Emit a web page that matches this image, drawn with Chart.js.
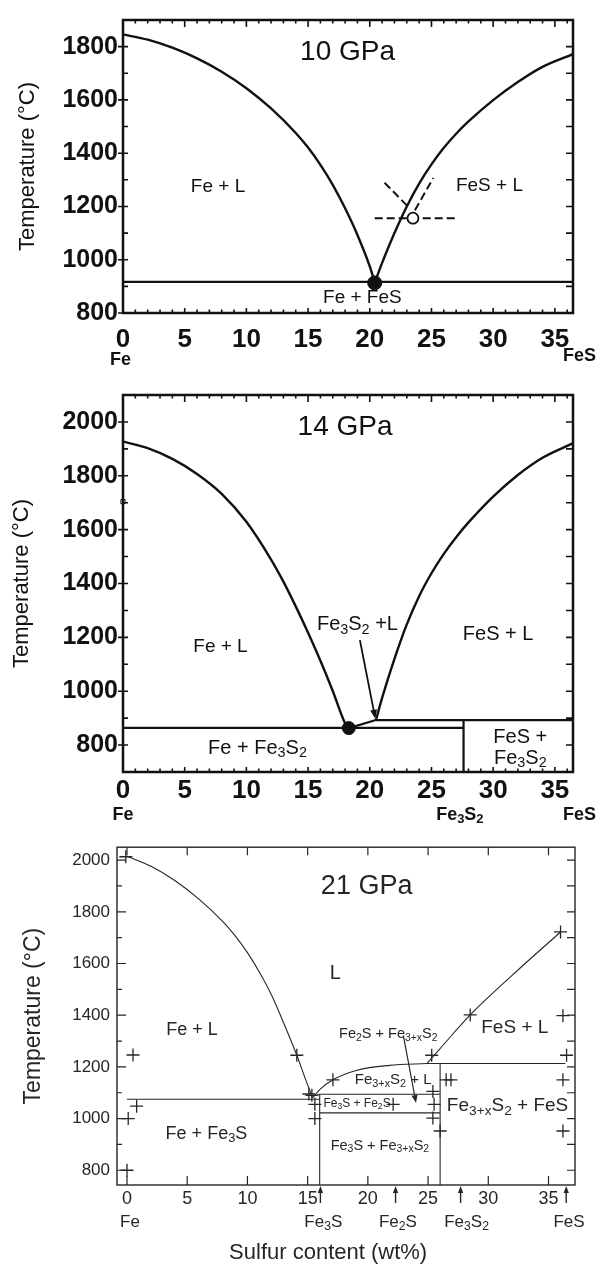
<!DOCTYPE html>
<html>
<head>
<meta charset="utf-8">
<title>Fe–FeS phase diagrams at 10, 14 and 21 GPa</title>
<script src="https://cdn.jsdelivr.net/npm/chart.js@4.4.1/dist/chart.umd.min.js"></script>
<style>
  html, body { margin: 0; padding: 0; background: #fff; }
  body { position: relative; width: 598px; height: 1280px; overflow: hidden; }
  canvas { position: absolute; left: 0; }
  #c10 { top: 0; }
  #c14 { top: 375px; }
  #c21 { top: 830px; }
</style>
</head>
<body>
<canvas id="c10" width="598" height="375"></canvas>
<canvas id="c14" width="598" height="455"></canvas>
<canvas id="c21" width="598" height="450"></canvas>
<script>
// ---------- axis ticks ----------
const compositionTicks = [0, 5, 10, 15, 20, 25, 30, 35];
const tempTicks10 = [800, 1000, 1200, 1400, 1600, 1800];
const tempTicks14 = [800, 1000, 1200, 1400, 1600, 1800, 2000];
const tempTicks21 = [800, 1000, 1200, 1400, 1600, 1800, 2000];

// ---------- 10 GPa: [S wt%, T °C] ----------
const liquidusFe10 = [[0, 1846], [2, 1826], [4, 1796], [6, 1756], [8, 1706], [10, 1644], [12, 1568],
  [14, 1476], [15, 1421], [16, 1356], [17, 1281], [18, 1193], [19, 1093], [20, 975], [20.4, 915]];
const liquidusFeS10 = [[20.4, 913], [21, 988], [22, 1100], [23, 1200], [24, 1286], [25, 1358], [26, 1420],
  [27, 1473], [28, 1519], [30, 1599], [32, 1667], [34, 1724], [36.47, 1772]];
const solidus10 = [[0, 917], [36.47, 917]];
const eutectic10 = [[20.4, 913]];
const melting10 = [[23.5, 1156]];
const rangeH10 = [[20.4, 1156], [27.1, 1156]];
const rangeA10 = [[21.2, 1289], [23.0, 1204]];
const rangeB10 = [[23.66, 1186], [25.15, 1307]];

// ---------- 14 GPa ----------
const liquidusFe14 = [[0, 1927], [2, 1903], [4, 1863], [6, 1807], [8, 1733], [10, 1629], [12, 1489],
  [13, 1407], [14, 1315], [15, 1217], [16, 1113], [17, 1001], [18, 881], [18.3, 862]];
const liquidusFeS14 = [[20.5, 893], [21, 975], [22, 1120], [23, 1248], [24, 1353], [25, 1438], [26, 1510],
  [27, 1572], [28, 1627], [30, 1723], [32, 1803], [34, 1867], [36.47, 1921]];
const solidus14 = [[0, 864], [27.6, 864]];
const peritecticTie14 = [[18.3, 863], [20.5, 893]];
const peritectic14 = [[20.5, 893], [36.47, 893]];
const fe3s2Line14 = [[27.6, 893], [27.6, 700]];
const eutectic14 = [[18.3, 863]];
const edgeMark14 = [[0, 1704]];

// ---------- 21 GPa ----------
const liquidusFe21 = [[0, 2015], [2, 1976], [4, 1920], [6, 1848], [8, 1760], [9, 1706], [10, 1642],
  [11, 1566], [12, 1478], [13, 1371], [14.1, 1245], [14.7, 1168], [15.4, 1080]];
const liquidusFe3xS2_21 = [[15.4, 1080], [16.0, 1112], [17.1, 1150], [19.1, 1187], [21.8, 1206], [24.9, 1213]];
const liquidusFeS21 = [[24.9, 1213], [26.0, 1271], [28.5, 1401], [32.0, 1555], [36.0, 1722]];
const eutectic21 = [[0, 1075], [16.0, 1075]];
const peritectic21 = [[24.9, 1213], [36.4, 1213]];
const boxTop21 = [[15.8, 1094], [26.0, 1094]];
const boxBottom21 = [[16.0, 1022], [26.0, 1022]];
const fe3sLine21 = [[16.0, 1094], [16.0, 743]];
const fe3s2Line21 = [[26.0, 1213], [26.0, 743]];
const runs21 = [[-0.1, 2013], [0.5, 1246], [0.8, 1048], [0.1, 1000], [0.0, 800], [14.1, 1245],
  [15.1, 1095], [15.35, 1090], [15.6, 1055], [15.6, 1000], [17.1, 1150], [22.1, 1055],
  [25.3, 1245], [25.4, 1105], [25.5, 1055], [25.4, 1002], [26.0, 952], [26.5, 1150], [26.9, 1150],
  [28.5, 1401], [36.0, 1722], [36.2, 1398], [36.5, 1245], [36.2, 1150], [36.2, 952]];

// ---------- drawing helpers ----------
const FONT = "'Liberation Sans', Arial, Helvetica, sans-serif";

function richSegments(s) {
  const out = []; let buf = ''; let i = 0;
  while (i < s.length) {
    if (s[i] === '_') {
      if (buf) { out.push({ t: buf, sub: false }); buf = ''; }
      if (s[i + 1] === '{') { const j = s.indexOf('}', i); out.push({ t: s.slice(i + 2, j), sub: true }); i = j + 1; }
      else { out.push({ t: s[i + 1], sub: true }); i += 2; }
    } else { buf += s[i]; i++; }
  }
  if (buf) out.push({ t: buf, sub: false });
  return out;
}

function drawRich(ctx, s, px, py, size, weight, color, align) {
  const segs = richSegments(s);
  const sub = size * 0.72;
  let w = 0;
  for (const g of segs) {
    ctx.font = `${weight} ${g.sub ? sub : size}px ${FONT}`;
    g.w = ctx.measureText(g.t).width; w += g.w;
  }
  let cx = align === 'left' ? px : align === 'right' ? px - w : px - w / 2;
  ctx.fillStyle = color; ctx.textAlign = 'left'; ctx.textBaseline = 'middle';
  for (const g of segs) {
    ctx.font = `${weight} ${g.sub ? sub : size}px ${FONT}`;
    ctx.fillText(g.t, cx, py + (g.sub ? size * 0.26 : 0));
    cx += g.w;
  }
}

function arrow(ctx, x0, y0, x1, y1, head, width, color) {
  const ang = Math.atan2(y1 - y0, x1 - x0);
  const bx = x1 - head * Math.cos(ang), by = y1 - head * Math.sin(ang);
  const hw = head * 0.38;
  ctx.strokeStyle = color; ctx.fillStyle = color; ctx.lineWidth = width;
  ctx.beginPath(); ctx.moveTo(x0, y0); ctx.lineTo(bx, by); ctx.stroke();
  ctx.beginPath(); ctx.moveTo(x1, y1);
  ctx.lineTo(bx + hw * Math.sin(ang), by - hw * Math.cos(ang));
  ctx.lineTo(bx - hw * Math.sin(ang), by + hw * Math.cos(ang));
  ctx.closePath(); ctx.fill();
}

// frame, inward tick marks, field labels and arrows
const phaseDecor = {
  id: 'phaseDecor',
  afterDatasetsDraw(chart, _args, o) {
    const { ctx, chartArea: a, scales: { x, y } } = chart;
    const t = o.ticks;
    ctx.save();
    ctx.strokeStyle = o.ink; ctx.lineWidth = o.tickWidth; ctx.beginPath();
    const xRatio = Math.round(t.xMajor / t.xStep);
    for (let i = Math.ceil(x.min / t.xStep); i * t.xStep <= x.max + 1e-9; i++) {
      const px = x.getPixelForValue(i * t.xStep);
      const major = ((i % xRatio) + xRatio) % xRatio === 0;
      const lt = major ? t.topMajor : t.topMinor;
      const lb = major ? t.bottomMajor : t.bottomMinor;
      if (lt) { ctx.moveTo(px, a.top); ctx.lineTo(px, a.top + lt); }
      if (lb) { ctx.moveTo(px, a.bottom); ctx.lineTo(px, a.bottom - lb); }
    }
    const yRatio = Math.round(t.yMajor / t.yStep);
    for (let i = Math.ceil(y.min / t.yStep); i * t.yStep <= y.max + 1e-9; i++) {
      const py = y.getPixelForValue(i * t.yStep);
      const major = i % yRatio === 0;
      const ll = major ? t.leftMajor : t.leftMinor;
      const lo = major ? t.leftOut : 0;
      ctx.moveTo(a.left - lo, py); ctx.lineTo(a.left + ll, py);
      const rl = major ? t.rightMajor : t.rightMinor;
      ctx.moveTo(a.right, py); ctx.lineTo(a.right - rl, py);
    }
    ctx.stroke();

    ctx.lineWidth = o.frameWidth;
    ctx.strokeRect(a.left, a.top, a.right - a.left, a.bottom - a.top);

    for (const ar of (o.arrows || [])) {
      arrow(ctx, x.getPixelForValue(ar.from[0]), y.getPixelForValue(ar.from[1]),
        x.getPixelForValue(ar.to[0]), y.getPixelForValue(ar.to[1]), ar.head, ar.width, o.ink);
    }
    for (const ar of (o.axisArrows || [])) {
      const px = x.getPixelForValue(ar.x);
      arrow(ctx, px, a.bottom + ar.tail, px, a.bottom + 1, ar.head, ar.width, o.ink);
    }
    for (const l of (o.texts || [])) {
      drawRich(ctx, l.t, x.getPixelForValue(l.x), y.getPixelForValue(l.y), l.size, l.weight || 'normal', o.ink, l.align || 'center');
    }
    for (const l of (o.below || [])) {
      drawRich(ctx, l.t, x.getPixelForValue(l.x), a.bottom + l.dy, l.size, l.weight || 'normal', o.ink, l.align || 'center');
    }
    ctx.restore();
  }
};

function pts(arr) { return arr.map(([x, y]) => ({ x, y })); }
function boundary(arr, ink, width, extra) {
  return Object.assign({ data: pts(arr), showLine: true, pointRadius: 0, pointHoverRadius: 0,
    borderColor: ink, borderWidth: width, tension: 0, fill: false }, extra || {});
}
function curve(arr, ink, width) { return boundary(arr, ink, width, { cubicInterpolationMode: 'monotone' }); }
function marks(arr, style, radius, ink, width, fillColor) {
  return { data: pts(arr), showLine: false, pointStyle: style, pointRadius: radius, pointHoverRadius: radius,
    pointBorderColor: ink, pointBackgroundColor: fillColor, pointBorderWidth: width,
    borderColor: ink, backgroundColor: fillColor, clip: false };
}

function buildPanel(id, p) {
  return new Chart(document.getElementById(id), {
    type: 'scatter',
    data: { datasets: p.datasets },
    options: {
      responsive: false, animation: false, devicePixelRatio: 1,
      layout: { padding: p.padding },
      events: [],
      plugins: { legend: { display: false }, tooltip: { enabled: false }, phaseDecor: p.decor },
      scales: {
        x: {
          type: 'linear', min: p.xMin, max: p.xMax,
          grid: { display: false, drawTicks: false }, border: { display: false },
          ticks: { color: p.ink, font: p.xFont, padding: p.xPad, autoSkip: false, maxRotation: 0, callback: v => String(v) },
          afterBuildTicks: s => { s.ticks = compositionTicks.map(v => ({ value: v })); },
          afterFit: s => { s.height = p.xHeight; }
        },
        y: {
          type: 'linear', min: p.yMin, max: p.yMax,
          grid: { display: false, drawTicks: false }, border: { display: false },
          ticks: { color: p.ink, font: p.yFont, padding: p.yPad, autoSkip: false, callback: v => String(v) },
          afterBuildTicks: s => { s.ticks = p.yTicks.map(v => ({ value: v })); },
          afterFit: s => { s.width = p.yWidth; },
          title: { display: true, text: 'Temperature (°C)', color: p.ink,
            font: { family: FONT, size: p.titleSize }, padding: { top: p.titlePad, bottom: 0 } }
        }
      }
    },
    plugins: [phaseDecor]
  });
}

// ---------- 10 GPa ----------
const ink12 = '#111';
const bold = { family: FONT, weight: 'bold' };
buildPanel('c10', {
  ink: ink12, xMin: 0, xMax: 36.47, yMin: 800, yMax: 1900, yTicks: tempTicks10,
  padding: { top: 10, right: 25, left: 0, bottom: 0 }, yWidth: 123, xHeight: 62,
  xFont: Object.assign({ size: 26 }, bold), xPad: 11, yFont: Object.assign({ size: 25 }, bold), yPad: 5,
  titleSize: 22, titlePad: 15,
  datasets: [
    marks(eutectic10, 'circle', 7, ink12, 1, ink12),
    marks(melting10, 'circle', 5.5, ink12, 1.8, '#fff'),
    curve(liquidusFe10, ink12, 2.4),
    curve(liquidusFeS10, ink12, 2.4),
    boundary(solidus10, ink12, 2.2),
    boundary(rangeH10, ink12, 2, { borderDash: [8, 4] }),
    boundary(rangeA10, ink12, 2, { borderDash: [8, 4] }),
    boundary(rangeB10, ink12, 2, { borderDash: [8, 4] })
  ],
  decor: {
    ink: ink12, tickWidth: 1.6, frameWidth: 2.5,
    ticks: { xStep: 1, xMajor: 5, topMajor: 7, topMinor: 3.5, bottomMajor: 5, bottomMinor: 3.5,
      yStep: 100, yMajor: 200, leftMajor: 5, leftMinor: 5, leftOut: 5, rightMajor: 7, rightMinor: 7 },
    texts: [
      { t: '10 GPa', x: 18.2, y: 1778, size: 28 },
      { t: 'Fe + L', x: 7.7, y: 1275, size: 19 },
      { t: 'FeS + L', x: 29.7, y: 1279, size: 19 },
      { t: 'Fe + FeS', x: 19.4, y: 858, size: 19 }
    ],
    below: [
      { t: 'Fe', x: -0.2, dy: 47, size: 18, weight: 'bold' },
      { t: 'FeS', x: 37.0, dy: 43, size: 18, weight: 'bold' }
    ]
  }
});

// ---------- 14 GPa ----------
buildPanel('c14', {
  ink: ink12, xMin: 0, xMax: 36.47, yMin: 700, yMax: 2100, yTicks: tempTicks14,
  padding: { top: 20, right: 25, left: 0, bottom: 0 }, yWidth: 123, xHeight: 58,
  xFont: Object.assign({ size: 26 }, bold), xPad: 3, yFont: Object.assign({ size: 25 }, bold), yPad: 5,
  titleSize: 22, titlePad: 9,
  datasets: [
    marks(eutectic14, 'circle', 6.5, ink12, 1, ink12),
    marks(edgeMark14, 'rect', 3, ink12, 1, '#fff'),
    curve(liquidusFe14, ink12, 2.4),
    curve(liquidusFeS14, ink12, 2.4),
    boundary(solidus14, ink12, 2.2),
    boundary(peritecticTie14, ink12, 2.2),
    boundary(peritectic14, ink12, 2.2),
    boundary(fe3s2Line14, ink12, 2.2)
  ],
  decor: {
    ink: ink12, tickWidth: 1.6, frameWidth: 2.5,
    ticks: { xStep: 1, xMajor: 5, topMajor: 7, topMinor: 3.5, bottomMajor: 5, bottomMinor: 3.5,
      yStep: 100, yMajor: 200, leftMajor: 5, leftMinor: 5, leftOut: 5, rightMajor: 7, rightMinor: 7 },
    arrows: [{ from: [19.2, 1190], to: [20.45, 898], head: 9, width: 1.8 }],
    texts: [
      { t: '14 GPa', x: 18.0, y: 1981, size: 28 },
      { t: 'Fe + L', x: 7.9, y: 1164, size: 19 },
      { t: 'Fe_3S_2 +L', x: 19.0, y: 1246, size: 20 },
      { t: 'FeS + L', x: 30.4, y: 1209, size: 20 },
      { t: 'Fe + Fe_3S_2', x: 10.9, y: 789, size: 20 },
      { t: 'FeS +', x: 32.2, y: 830, size: 20 },
      { t: 'Fe_3S_2', x: 32.2, y: 752, size: 20 }
    ],
    below: [
      { t: 'Fe', x: 0, dy: 43, size: 18, weight: 'bold' },
      { t: 'Fe_3S_2', x: 27.3, dy: 43, size: 18, weight: 'bold' },
      { t: 'FeS', x: 37.0, dy: 43, size: 18, weight: 'bold' }
    ]
  }
});

// ---------- 21 GPa ----------
const ink3 = '#262626';
buildPanel('c21', {
  ink: ink3, xMin: -0.83, xMax: 37.2, yMin: 743, yMax: 2050, yTicks: tempTicks21,
  padding: { top: 12, right: 23, left: 0, bottom: 0 }, yWidth: 117, xHeight: 95,
  xFont: { family: FONT, size: 18 }, xPad: 3, yFont: { family: FONT, size: 17 }, yPad: 7,
  titleSize: 23, titlePad: 20,
  datasets: [
    marks(runs21, 'cross', 6.5, ink3, 1.3, ink3),
    curve(liquidusFe21, ink3, 1.1),
    curve(liquidusFe3xS2_21, ink3, 1.1),
    curve(liquidusFeS21, ink3, 1.1),
    boundary(eutectic21, ink3, 1.1),
    boundary(peritectic21, ink3, 1.1),
    boundary(boxTop21, ink3, 1.1),
    boundary(boxBottom21, ink3, 1.1),
    boundary(fe3sLine21, ink3, 1.1),
    boundary(fe3s2Line21, ink3, 1.1)
  ],
  decor: {
    ink: ink3, tickWidth: 1.2, frameWidth: 1.4,
    ticks: { xStep: 5, xMajor: 5, topMajor: 8, topMinor: 0, bottomMajor: 9, bottomMinor: 0,
      yStep: 100, yMajor: 200, leftMajor: 9, leftMinor: 5, leftOut: 0, rightMajor: 8, rightMinor: 8 },
    arrows: [{ from: [22.95, 1321], to: [24.0, 1060], head: 8, width: 1.2 }],
    axisArrows: [
      { x: 16.06, tail: 18, head: 7, width: 1.4 },
      { x: 22.3, tail: 18, head: 7, width: 1.4 },
      { x: 27.7, tail: 18, head: 7, width: 1.4 },
      { x: 36.47, tail: 18, head: 7, width: 1.4 }
    ],
    texts: [
      { t: '21 GPa', x: 19.9, y: 1897, size: 27 },
      { t: 'L', x: 17.3, y: 1562, size: 20 },
      { t: 'Fe + L', x: 5.4, y: 1341, size: 18 },
      { t: 'Fe + Fe_3S', x: 6.6, y: 941, size: 18 },
      { t: 'FeS + L', x: 32.2, y: 1352, size: 19 },
      { t: 'Fe_2S + Fe_{3+x}S_2', x: 21.7, y: 1326, size: 14.5 },
      { t: 'Fe_{3+x}S_2 + L', x: 22.1, y: 1150, size: 15 },
      { t: 'Fe_3S + Fe_2S', x: 19.1, y: 1059, size: 12 },
      { t: 'Fe_{3+x}S_2 + FeS', x: 31.6, y: 1048, size: 19 },
      { t: 'Fe_3S + Fe_{3+x}S_2', x: 21.0, y: 895, size: 14.5 }
    ],
    below: [
      { t: 'Fe', x: 0.25, dy: 37, size: 17 },
      { t: 'Fe_3S', x: 16.3, dy: 37, size: 17 },
      { t: 'Fe_2S', x: 22.5, dy: 37, size: 17 },
      { t: 'Fe_3S_2', x: 28.2, dy: 37, size: 17 },
      { t: 'FeS', x: 36.7, dy: 37, size: 17 },
      { t: 'Sulfur content (wt%)', x: 16.7, dy: 68, size: 22 }
    ]
  }
});
</script>
</body>
</html>
